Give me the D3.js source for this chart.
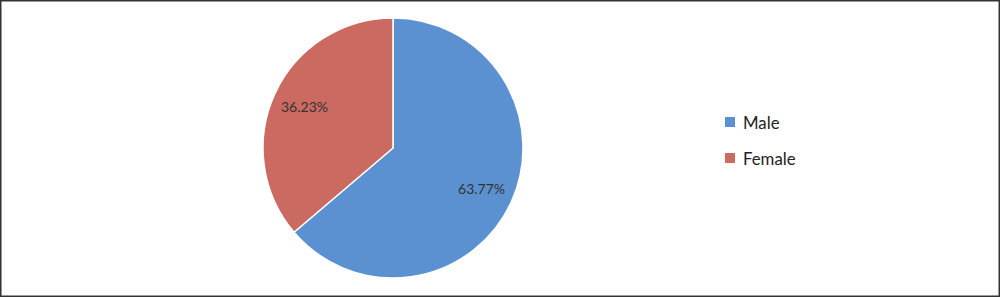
<!DOCTYPE html>
<html><head><meta charset="utf-8">
<script src="https://cdn.jsdelivr.net/npm/d3@7"></script>
<style>html,body{margin:0;padding:0;background:#fff;}svg{display:block;}</style>
</head><body>
<svg id="chart" width="1000" height="297"></svg>
<script>
const categories = ["Male", "Female"];
const values = [63.77, 36.23];
const labels = ["63.77%", "36.23%"];
const colors = ["#5B91D0", "#CB6A60"];

const svg = d3.select("#chart");
const W = 1000, H = 297;
svg.append("rect").attr("x", 0.75).attr("y", 0.75).attr("width", W - 1.5).attr("height", H - 1.5)
  .attr("fill", "#fff").attr("stroke", "#333").attr("stroke-width", 1.5);

const cx = 393, cy = 148, R = 130;
const pie = d3.pie().sort(null).value(d => d);
const arcs = pie(values);
const arc = d3.arc().innerRadius(0).outerRadius(R);
const labelArc = d3.arc().innerRadius(R * 0.75).outerRadius(R * 0.75);
const g = svg.append("g").attr("transform", `translate(${cx},${cy})`);
g.selectAll("path").data(arcs).join("path")
  .attr("d", arc).attr("fill", (d, i) => colors[i])
  .attr("stroke", "#fff").attr("stroke-width", 1.5);
g.selectAll("text").data(arcs).join("text")
  .attr("transform", d => `translate(${labelArc.centroid(d)})`)
  .attr("text-anchor", "middle").attr("dy", "0.35em")
  .attr("font-family", "Lato, 'Open Sans', sans-serif").attr("font-size", 14)
  .attr("fill", "#333").text((d, i) => labels[i]);

const legend = svg.append("g").attr("transform", "translate(725,117)");
const li = legend.selectAll("g").data(categories).join("g")
  .attr("transform", (d, i) => `translate(0,${i * 36})`);
li.append("rect").attr("width", 10).attr("height", 10).attr("fill", (d, i) => colors[i]);
li.append("text").attr("x", 18).attr("y", 11.5)
  .attr("font-family", "Lato, 'Open Sans', sans-serif").attr("font-size", 16.8)
  .attr("fill", "#222").text(d => d);
</script>
</body></html>
